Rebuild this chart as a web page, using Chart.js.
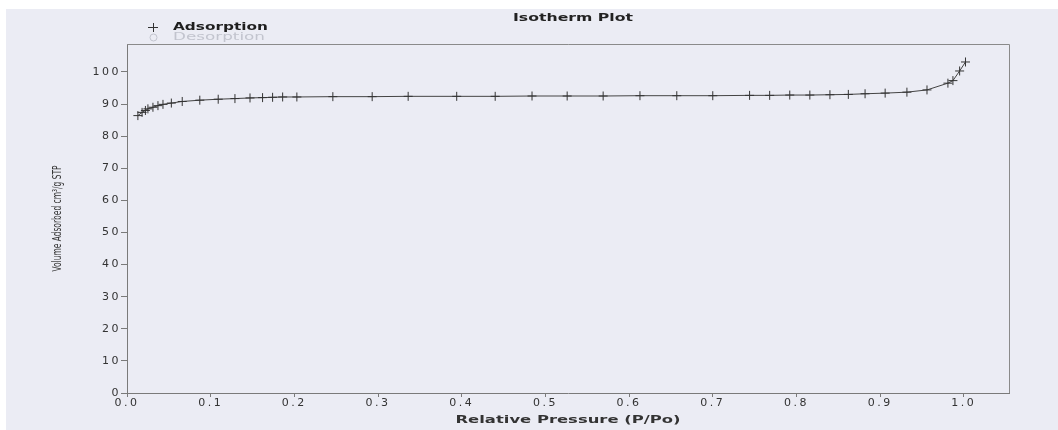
<!DOCTYPE html>
<html lang="en">
<head>
    <meta charset="UTF-8">
    <title>Isotherm Plot</title>
    <style>
        body {
            margin: 0;
            padding: 0;
            background-color: #fff;
        }
        .wrap {
            width: 1058px;
            height: 430px;
        }
    </style>
</head>
<body>
    <div class="wrap">
        <canvas id="isoChart" width="1058" height="430"></canvas>
    </div>
    <script src="https://cdn.jsdelivr.net/npm/chart.js"></script>
    <script>
        // values
        const pressure = [0.013, 0.018, 0.022, 0.025, 0.031, 0.037, 0.043, 0.053, 0.066, 0.087,
            0.109, 0.129, 0.147, 0.162, 0.174, 0.186, 0.203, 0.246, 0.293, 0.336,
            0.394, 0.440, 0.484, 0.526, 0.569, 0.613, 0.657, 0.700, 0.744, 0.768,
            0.792, 0.816, 0.840, 0.862, 0.882, 0.906, 0.932, 0.956, 0.981, 0.987,
            0.995, 1.002];
        const adsorption = [86.4, 87.4, 88.0, 88.5, 89.0, 89.5, 89.9, 90.3, 90.8, 91.2,
            91.5, 91.7, 91.9, 92.0, 92.1, 92.2, 92.2, 92.3, 92.3, 92.4,
            92.4, 92.4, 92.5, 92.5, 92.5, 92.6, 92.6, 92.6, 92.7, 92.7,
            92.8, 92.8, 92.9, 93.0, 93.2, 93.4, 93.7, 94.4, 96.5, 97.3,
            100.3, 103.1];
        const desorptionP = [];
        const desorption = [];
        const xTicks = [0, 0.1, 0.2, 0.3, 0.4, 0.5, 0.6, 0.7, 0.8, 0.9, 1.0];
        const yTicks = [0, 10, 20, 30, 40, 50, 60, 70, 80, 90, 100];

        function drawStretched(ctx, text, x, y, width, font, color, align, rotate) {
            ctx.save();
            ctx.font = font;
            const w = ctx.measureText(text).width;
            ctx.translate(x, y);
            if (rotate) ctx.rotate(-Math.PI / 2);
            ctx.scale(width / w, 1);
            ctx.fillStyle = color;
            ctx.textAlign = align;
            ctx.textBaseline = 'middle';
            ctx.fillText(text, 0, 0);
            ctx.restore();
        }

        const paper = {
            id: 'paper',
            beforeDraw(chart) {
                const ctx = chart.ctx;
                ctx.save();
                ctx.fillStyle = '#ebecf4';
                ctx.fillRect(6, 9, chart.width - 6, chart.height - 9);
                ctx.restore();
                ctx.letterSpacing = '2.5px'; // wide tick digits
            },
            afterDraw(chart) {
                const ctx = chart.ctx;
                ctx.letterSpacing = '0px';
                const a = chart.chartArea;

                // box top and right
                ctx.save();
                ctx.strokeStyle = '#8a8a8a';
                ctx.lineWidth = 1;
                ctx.beginPath();
                ctx.moveTo(a.left, a.top + 0.5);
                ctx.lineTo(a.right + 0.5, a.top + 0.5);
                ctx.lineTo(a.right + 0.5, a.bottom);
                ctx.stroke();
                ctx.restore();

                drawStretched(ctx, 'Isotherm Plot', 573, 18, 120, 'bold 11px "DejaVu Sans"', '#222', 'center');

                // legend
                ctx.save();
                ctx.strokeStyle = '#333';
                ctx.lineWidth = 1;
                ctx.beginPath();
                ctx.moveTo(148, 27.5); ctx.lineTo(158, 27.5);
                ctx.moveTo(153.5, 23); ctx.lineTo(153.5, 32);
                ctx.stroke();
                ctx.strokeStyle = '#c4c6d0';
                ctx.beginPath();
                ctx.arc(153.5, 37.5, 3.5, 0, Math.PI * 2);
                ctx.stroke();
                ctx.restore();
                drawStretched(ctx, chart.data.datasets[0].label, 173, 27, 95, 'bold 11px "DejaVu Sans"', '#1e1e1e', 'left');
                drawStretched(ctx, chart.data.datasets[1].label, 173, 37.5, 92, '11px "DejaVu Sans"', '#c2c4ce', 'left');

                drawStretched(ctx, 'Relative Pressure (P/Po)', (a.left + a.right) / 2, 420, 225,
                    'bold 11px "DejaVu Sans"', '#333', 'center');
                drawStretched(ctx, 'Volume Adsorbed cm³/g STP', 58, (a.top + a.bottom) / 2, 106,
                    '13px "Liberation Sans Narrow", "DejaVu Sans Condensed", sans-serif', '#333', 'center', true);
            }
        };

        const ctx = document.getElementById('isoChart').getContext('2d');
        new Chart(ctx, {
            type: 'line',
            data: {
                datasets: [{
                    label: 'Adsorption',
                    data: pressure.map((p, i) => ({ x: p, y: adsorption[i] })),
                    borderColor: '#444',
                    borderWidth: 1,
                    pointStyle: 'cross',
                    pointRadius: 4.5,
                    pointBorderColor: '#333',
                    pointBorderWidth: 1,
                    fill: false,
                    tension: 0
                }, {
                    label: 'Desorption',
                    data: desorptionP.map((p, i) => ({ x: p, y: desorption[i] })),
                    borderColor: '#c4c6d0',
                    pointStyle: 'circle',
                    fill: false
                }]
            },
            options: {
                responsive: false,
                animation: false,
                devicePixelRatio: 1,
                layout: {
                    padding: { left: 0, top: 44, right: 49, bottom: 0 }
                },
                plugins: {
                    legend: { display: false },
                    title: { display: false },
                    tooltip: { enabled: false }
                },
                scales: {
                    x: {
                        type: 'linear',
                        min: 0,
                        max: 1.054,
                        afterBuildTicks: (scale) => { scale.ticks = xTicks.map(v => ({ value: v })); },
                        afterFit: (scale) => { scale.height = 37; },
                        ticks: {
                            callback: (v) => v.toFixed(1),
                            font: { family: 'DejaVu Sans', size: 11 },
                            color: '#333',
                            padding: 0,
                            maxRotation: 0,
                            autoSkip: false
                        },
                        grid: { drawOnChartArea: false, tickLength: 4, color: '#7a7a7a' },
                        border: { color: '#7a7a7a', width: 1 }
                    },
                    y: {
                        min: 0,
                        max: 108.7,
                        afterBuildTicks: (scale) => { scale.ticks = yTicks.map(v => ({ value: v })); },
                        afterFit: (scale) => { scale.width = 127; },
                        ticks: {
                            font: { family: 'DejaVu Sans', size: 11 },
                            color: '#333',
                            padding: 0
                        },
                        grid: { drawOnChartArea: false, tickLength: 6, color: '#7a7a7a' },
                        border: { color: '#7a7a7a', width: 1 }
                    }
                }
            },
            plugins: [paper]
        });
    </script>
</body>
</html>
